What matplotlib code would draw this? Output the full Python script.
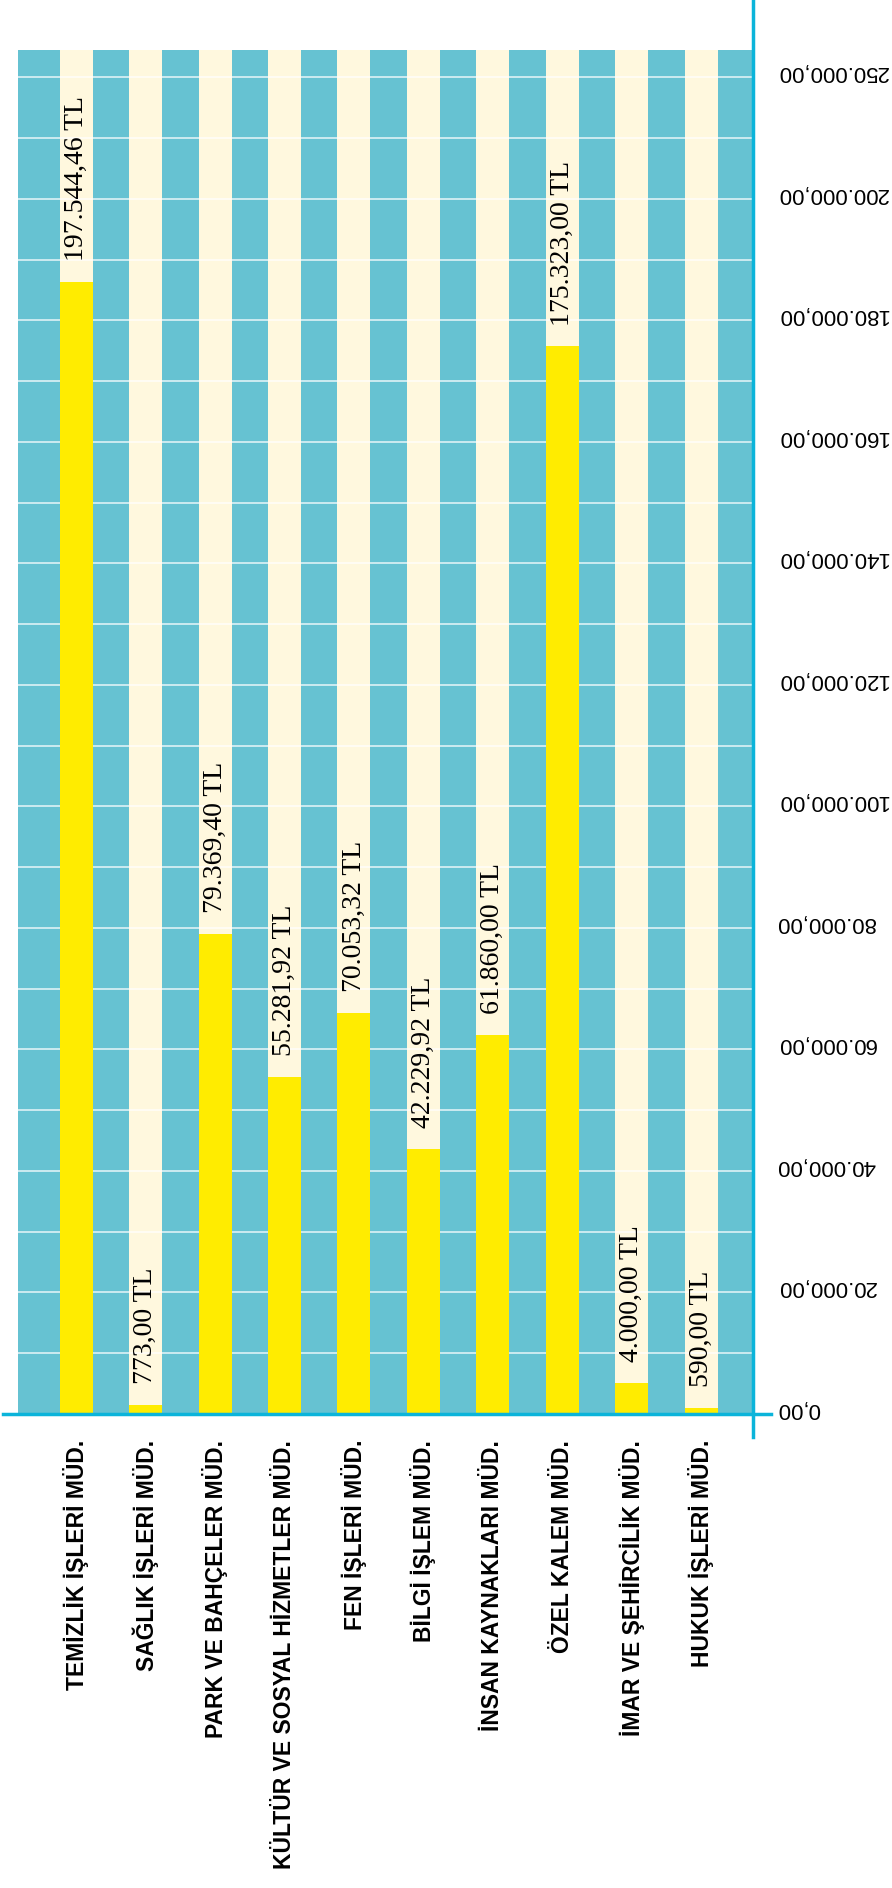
import matplotlib
matplotlib.use("Agg")
import matplotlib.pyplot as plt
import numpy as np

categories = [
    "TEMİZLİK İŞLERİ MÜD.",
    "SAĞLIK İŞLERİ MÜD.",
    "PARK VE BAHÇELER MÜD.",
    "KÜLTÜR VE SOSYAL HİZMETLER MÜD.",
    "FEN İŞLERİ MÜD.",
    "BİLGİ İŞLEM MÜD.",
    "İNSAN KAYNAKLARI MÜD.",
    "ÖZEL KALEM MÜD.",
    "İMAR VE ŞEHİRCİLİK MÜD.",
    "HUKUK İŞLERİ MÜD.",
]
amount_labels = [
    "197.544,46 TL", "773,00 TL", "79.369,40 TL", "55.281,92 TL", "70.053,32 TL",
    "42.229,92 TL", "61.860,00 TL", "175.323,00 TL", "4.000,00 TL", "590,00 TL",
]
# bar heights as drawn in the picture
bar_heights = [186300, 1500, 79000, 55500, 66000, 43600, 62400, 175700, 5050, 1050]

tick_values = [0, 20000, 40000, 60000, 80000, 100000, 120000, 140000, 160000, 180000, 200000, 220000]
tick_labels = ["0,00", "20.000,00", "40.000,00", "60.000,00", "80.000,00", "100.000,00",
               "120.000,00", "140.000,00", "160.000,00", "180.000,00", "200.000,00", "250.000,00"]
grid_values = [10000 * k for k in range(1, 23)]
y_top = 224500

TEAL = "#66C2D2"
PALE = "#FFF8DE"
YELLOW = "#FFEC00"
AXIS = "#0BB4DA"

W, H = 892, 1888
fig = plt.figure(figsize=(W / 100, H / 100), dpi=100)
ax = fig.add_axes([18 / W, 1 - 1414 / H, 735 / W, 1364 / H])
ax.set_facecolor(TEAL)

x = np.arange(len(categories))
ax.bar(x, y_top, width=0.475, color=PALE, zorder=1)
for g in grid_values:
    ax.axhline(g, color="white", lw=1.1, alpha=0.85, zorder=2)
ax.bar(x, bar_heights, width=0.475, color=YELLOW, zorder=3)

ax.set_xlim(-0.838, 9.747)
ax.set_ylim(0, y_top)
for s in ax.spines.values():
    s.set_visible(False)
ax.set_xticks([])
ax.set_yticks([])

# value axis labels, upside down on the right
for v, lbl in zip(tick_values, tick_labels):
    ax.annotate(lbl, (1, v), xycoords=("axes fraction", "data"),
                xytext=(17, 4), textcoords="offset points",
                rotation=180, ha="left", va="center",
                family="Liberation Sans", fontsize=16, annotation_clip=False)

for i, (cat, lbl, h) in enumerate(zip(categories, amount_labels, bar_heights)):
    ax.annotate(lbl, (i, h), xytext=(0, 15), textcoords="offset points",
                rotation=90, ha="center", va="bottom",
                family="Liberation Serif", fontsize=20, zorder=4)
    ax.annotate(cat, (i, 0), xytext=(0, -18.5), textcoords="offset points",
                rotation=90, ha="center", va="top",
                family="Liberation Sans", fontsize=16.5, fontweight="bold",
                annotation_clip=False)

ax.axhline(0, xmin=-15 / 735, xmax=753 / 735, color=AXIS, lw=2.5, clip_on=False, zorder=5)
ax.axvline(9.747, ymin=-23 / 1364, ymax=1414 / 1364, color=AXIS, lw=2.5, clip_on=False, zorder=5)

fig.savefig("out.png", dpi=100)
